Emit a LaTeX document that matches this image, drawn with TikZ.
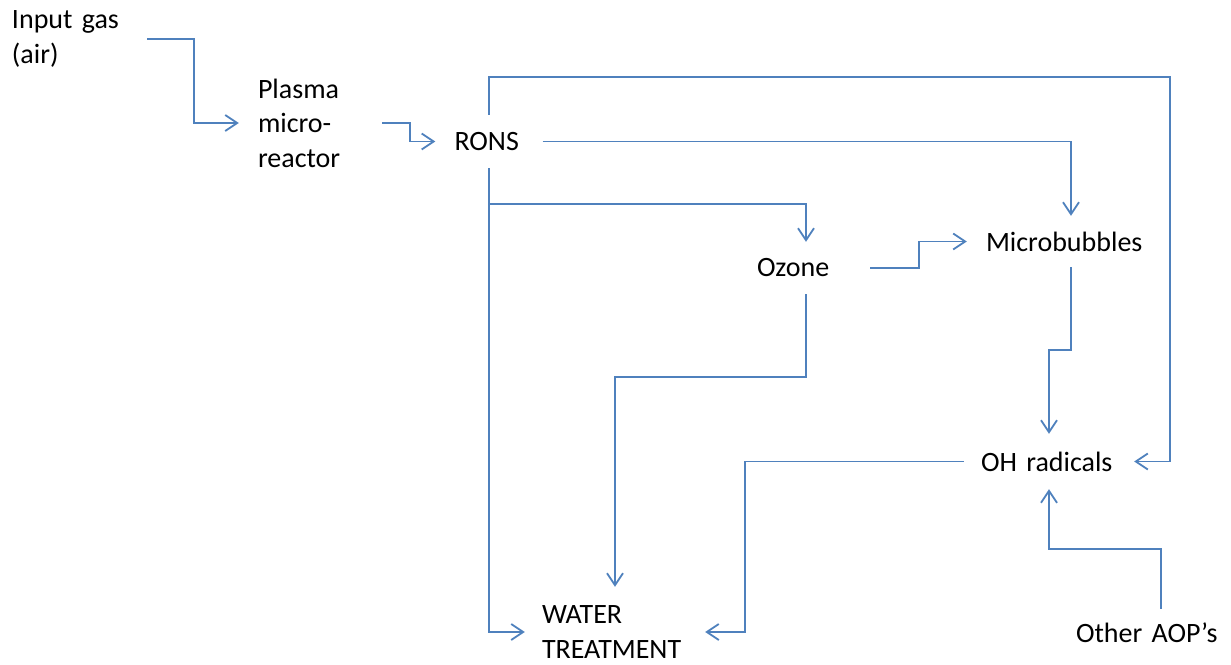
\documentclass[tikz,border=0pt]{standalone}
\usepackage{fontspec}
\setmainfont{Carlito}
\usetikzlibrary{arrows.meta}
\definecolor{linkblue}{HTML}{4F81BD}

\begin{document}
\begin{tikzpicture}[x=1pt,y=-1pt,
        box/.style={inner ysep=0pt, align=left,
                        font=\fontsize{28}{34.5}\selectfont},
        flow/.style={draw=linkblue, line width=1.8pt,
                        -{Straight Barb[length=12pt,width=16pt]}}]
    \useasboundingbox (0,0) rectangle (1231,664);
    \node[box, text width=130pt, inner xsep=5pt] (input) at (77,39) {Input gas\\(air)};
    \node[box, text width=105pt, inner xsep=19pt] (plasma) at (310.5,123) {Plasma\\micro-\\reactor};
    \node[box, text width=69pt, inner xsep=19pt, minimum height=53pt] (rons) at (489,141.5) {RONS};
    \node[box, text width=98pt, inner xsep=15pt, minimum height=52pt] (ozone) at (806,268) {Ozone};
    \node[box, text width=170pt, inner xsep=19pt, minimum height=51pt] (micro) at (1071,241.5) {Microbubbles};
    \node[box, text width=136pt, inner xsep=17pt, minimum height=55pt] (oh) at (1049,461.5) {OH radicals};
    \node[box, text width=146pt, inner xsep=17pt, minimum height=90pt] (water) at (615,632) {WATER\\TREATMENT};
    \node[box, text width=170pt, inner xsep=15pt, minimum height=47pt] (aop) at (1161,632.5) {Other AOP’s};
    \draw[flow] (input.east) -- ++(47,0) |- (plasma.west);
    \draw[flow] (plasma.east) -- ++(28,0) |- (rons.west);
    \draw[flow] (rons.north) -- ++(0,-38) -- ++(681,0) |- (oh.east);
    \draw[flow] (rons.east) -| (micro.north);
    \draw[flow] (rons.south) |- (water.west);
    \draw[flow] (rons.south) ++(0,36) -| (ozone.north);
    \draw[flow] (ozone.east) -- ++(49,0) |- (micro.west);
    \draw[flow] (ozone.south) -- ++(0,83) -| (water.north);
    \draw[flow] (micro.south) -- ++(0,83) -| (oh.north);
    \draw[flow] (oh.west) -- ++(-219,0) |- (water.east);
    \draw[flow] (aop.north) -- ++(0,-60) -| (oh.south);
\end{tikzpicture}
\end{document}
